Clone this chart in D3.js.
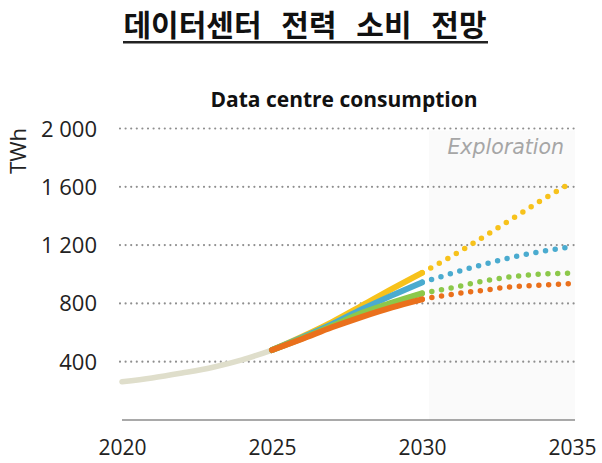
<!DOCTYPE html>
<html>
<head>
<meta charset="utf-8">
<script src="https://cdn.jsdelivr.net/npm/d3@7"></script>
<style>
  body { margin: 0; background: #fff; }
  svg { display: block; }
</style>
</head>
<body>
<svg id="chart" width="602" height="463"></svg>
<script>
// values (TWh)
const histYears = [2020, 2021, 2022, 2023, 2024, 2025];
const histValues = [262, 288, 322, 360, 412, 480];

const caseYears = [2025, 2026, 2027, 2028, 2029, 2030];
const liftOff = [480, 572, 672, 785, 900, 1010];
const baseCase = [480, 566, 657, 760, 855, 944];
const highEff = [480, 560, 645, 735, 805, 869];
const headwinds = [480, 556, 636, 708, 773, 828];

const exploreYears = [2030, 2031, 2032, 2033, 2034, 2035];
const liftOffExp = [1010, 1125, 1250, 1380, 1510, 1630];
const baseCaseExp = [944, 1006, 1065, 1116, 1157, 1189];
const highEffExp = [869, 907, 951, 983, 1001, 1008];
const headwindsExp = [828, 862, 889, 914, 926, 935];

const yTicks = [400, 800, 1200, 1600, 2000];
const xTicks = [2020, 2025, 2030, 2035];

const colors = {
  hist: "#dfdecb",
  liftOff: "#f7c21b",
  base: "#4aabcf",
  high: "#8cc84a",
  head: "#ea701c",
};

const svg = d3.select("#chart");

const x = d3.scaleLinear().domain([2020, 2035]).range([122, 572]);
const y = d3.scaleLinear().domain([0, 2000]).range([420, 128.5]);

// title
svg.append("text")
  .attr("x", 305).attr("y", 36)
  .attr("text-anchor", "middle")
  .style("font-family", "'Noto Sans CJK KR', sans-serif")
  .style("font-weight", 700)
  .style("font-size", "30px")
  .style("word-spacing", "13px")
  .attr("fill", "#111")
  .text("데이터센터 전력 소비 전망");
svg.append("rect")
  .attr("x", 123).attr("y", 41).attr("width", 365).attr("height", 2.5)
  .attr("fill", "#222");

svg.append("text")
  .attr("x", 344).attr("y", 107)
  .attr("text-anchor", "middle")
  .style("font-family", "'Open Sans', sans-serif")
  .style("font-weight", 700)
  .style("font-size", "21px")
  .attr("fill", "#111")
  .text("Data centre consumption");

// exploration band
svg.append("rect")
  .attr("x", x(2030) + 7).attr("y", y(2000) + 2)
  .attr("width", x(2035) + 3 - x(2030) - 7)
  .attr("height", y(0) - y(2000) - 2)
  .attr("fill", "#fafafa");

svg.append("text")
  .attr("x", 564).attr("y", 154)
  .attr("text-anchor", "end")
  .style("font-family", "'DejaVu Sans', sans-serif")
  .style("font-style", "italic")
  .style("font-size", "20.5px")
  .attr("fill", "#a6a6a6")
  .text("Exploration");

// grid
svg.append("g")
  .selectAll("line")
  .data(yTicks)
  .join("line")
  .attr("x1", 120).attr("x2", 577)
  .attr("y1", (d) => y(d)).attr("y2", (d) => y(d))
  .attr("stroke", "#8f8f8f")
  .attr("stroke-width", 2.2)
  .attr("stroke-linecap", "round")
  .attr("stroke-dasharray", "0 5.6");

// y labels
svg.append("g")
  .selectAll("text")
  .data(yTicks)
  .join("text")
  .attr("x", 97)
  .attr("y", (d) => y(d) + 8)
  .attr("text-anchor", "end")
  .style("font-family", "'Open Sans', sans-serif")
  .style("font-size", "22px")
  .attr("fill", "#222")
  .text((d) => d3.format(",")(d).replace(",", " "));

svg.append("text")
  .attr("transform", "translate(26,151) rotate(-90)")
  .attr("text-anchor", "middle")
  .style("font-family", "'Open Sans', sans-serif")
  .style("font-size", "22px")
  .attr("fill", "#222")
  .text("TWh");

// x axis
const xAxis = d3.axisBottom(x).tickValues(xTicks).tickFormat(d3.format("d")).tickSize(0).tickPadding(20);
const gx = svg.append("g").attr("transform", `translate(0,${y(0)})`).call(xAxis);
gx.select(".domain").remove();
gx.selectAll("text")
  .style("font-family", "'Open Sans', sans-serif")
  .style("font-size", "21px")
  .attr("fill", "#222");
svg.append("line")
  .attr("x1", 122).attr("x2", 575)
  .attr("y1", y(0)).attr("y2", y(0))
  .attr("stroke", "#555").attr("stroke-width", 1.2);

const line = (years) =>
  d3.line()
    .x((d, i) => x(years[i]))
    .y((d) => y(d))
    .curve(d3.curveMonotoneX);

// exploration dotted projections
const exploration = [
  [liftOffExp, colors.liftOff],
  [baseCaseExp, colors.base],
  [highEffExp, colors.high],
  [headwindsExp, colors.head],
];
svg.append("g")
  .selectAll("path")
  .data(exploration)
  .join("path")
  .attr("d", (d) => line(exploreYears)(d[0]))
  .attr("fill", "none")
  .attr("stroke", (d) => d[1])
  .attr("stroke-width", 5.5)
  .attr("stroke-linecap", "round")
  .attr("stroke-dasharray", "0 9.8")
  .attr("stroke-dashoffset", -10);

// history
svg.append("path")
  .attr("d", line(histYears)(histValues))
  .attr("fill", "none")
  .attr("stroke", colors.hist)
  .attr("stroke-width", 5.5)
  .attr("stroke-linecap", "round");

// cases to 2030
const cases = [
  [liftOff, colors.liftOff],
  [baseCase, colors.base],
  [highEff, colors.high],
  [headwinds, colors.head],
];
svg.append("g")
  .selectAll("path")
  .data(cases)
  .join("path")
  .attr("d", (d) => line(caseYears)(d[0]))
  .attr("fill", "none")
  .attr("stroke", (d) => d[1])
  .attr("stroke-width", 6)
  .attr("stroke-linecap", "round");
</script>
</body>
</html>
